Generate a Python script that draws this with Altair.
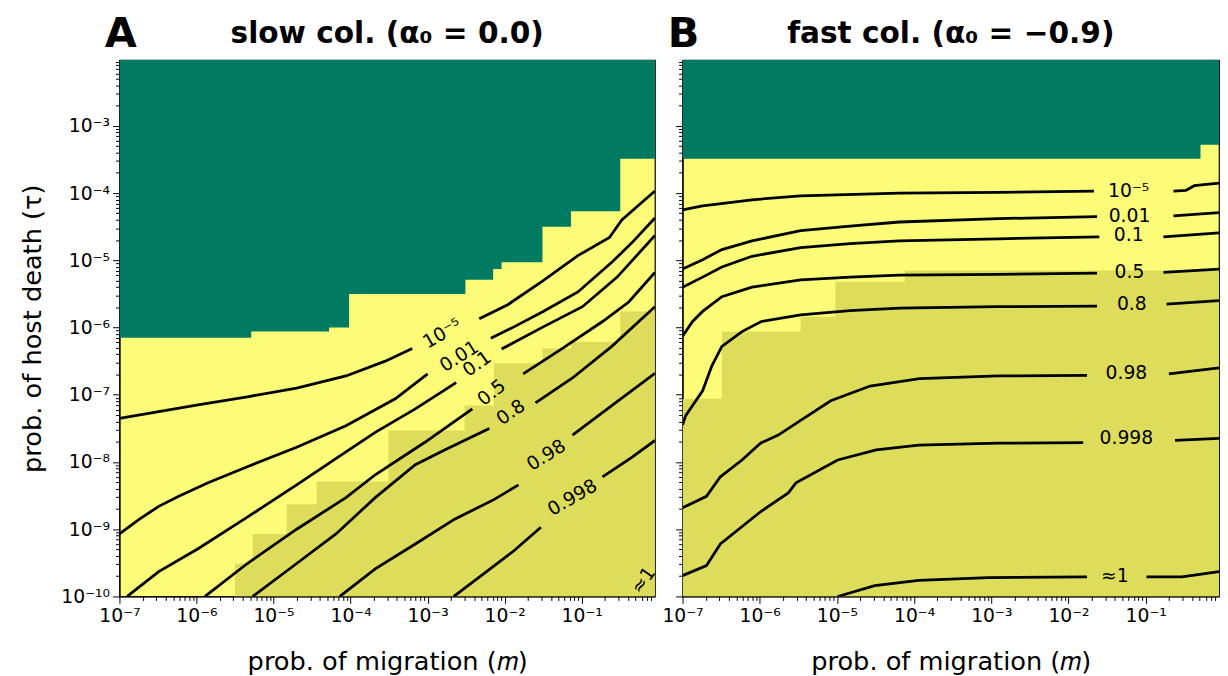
import altair as alt
import pandas as pd

FONT = "DejaVu Sans"
GREEN = "#007a60"
LIGHT = "#fcfc78"
DARK = "#dedd5b"

M_DOMAIN = [1e-7, 10 ** -0.05]
TAU_DOMAIN = [1e-10, 10 ** -2.02]
W_A, W_B, H = 543, 544, 544

# ---- region boundaries (log10 m where a step starts, log10 tau of the boundary)
A_GREEN_M = [-7.0, -5.29, -4.28, -4.02, -2.51, -2.15, -2.04, -1.51, -1.14, -0.50]
A_GREEN_TAU = [-6.15, -6.06, -6.00, -5.50, -5.29, -5.13, -5.03, -4.50, -4.27, -3.49]
A_DARK_M = [-7.0, -5.50, -5.27, -4.83, -4.44, -3.51, -2.52, -2.14, -1.51, -1.14, -0.50]
A_DARK_TAU = [-10.0, -9.51, -9.07, -8.63, -8.29, -7.53, -7.16, -6.53, -6.31, -6.21, -5.76]
B_GREEN_M = [-7.0, -0.29]
B_GREEN_TAU = [-3.49, -3.28]
B_DARK_M = [-7.0, -6.49, -5.47, -5.02, -4.12]
B_DARK_TAU = [-7.06, -6.06, -5.84, -5.32, -5.15]

# ---- contour lines (log10 m, log10 tau); None marks the gap left for the label
LEVELS = ["10⁻⁵", "0.01", "0.1", "0.5", "0.8", "0.98", "0.998", "≈1"]

A_C1 = [(-7.00, -7.35), (-6.49, -7.25), (-5.98, -7.15), (-5.34, -7.03), (-4.70, -6.90), (-4.06, -6.72),
        (-3.55, -6.50), (-3.20, -6.31), None, (-2.33, -5.87), (-1.96, -5.66), (-1.51, -5.31), (-1.05, -4.93),
        (-0.64, -4.66), (-0.48, -4.40), (-0.05, -3.97)]
A_C2 = [(-7.00, -9.07), (-6.74, -8.85), (-6.49, -8.66), (-6.23, -8.51), (-5.85, -8.31), (-5.34, -8.07),
        (-4.70, -7.78), (-4.06, -7.46), (-3.42, -7.06), (-3.00, -6.69), None, (-2.18, -6.16), (-1.88, -5.99),
        (-1.50, -5.76), (-1.05, -5.47), (-0.61, -5.03), (-0.35, -4.74), (-0.05, -4.37)]
A_C3 = [(-6.90, -10.0), (-6.49, -9.63), (-5.98, -9.29), (-5.34, -8.82), (-4.70, -8.34), (-4.06, -7.85),
        (-3.68, -7.56), (-3.16, -7.21), (-2.63, -6.82), None, (-2.04, -6.32), (-1.50, -5.99), (-0.99, -5.69),
        (-0.54, -5.25), (-0.05, -4.63)]
A_C4 = [(-5.89, -10.0), (-5.34, -9.51), (-4.70, -9.00), (-4.06, -8.53), (-3.68, -8.19), (-3.04, -7.71),
        (-2.42, -7.21), None, (-1.76, -6.69), (-1.25, -6.31), (-0.73, -5.91), (-0.39, -5.62), (-0.05, -5.18)]
A_C5 = [(-5.27, -10.0), (-4.70, -9.51), (-4.19, -9.07), (-3.68, -8.53), (-3.16, -8.04), (-2.78, -7.82),
        (-2.20, -7.50), None, (-1.60, -7.12), (-1.12, -6.75), (-0.61, -6.28), (-0.05, -5.69)]
A_C6 = [(-4.14, -10.0), (-3.68, -9.59), (-3.16, -9.22), (-2.65, -8.85), (-2.14, -8.56), (-1.82, -8.34), None,
        (-1.12, -7.60), (-0.61, -7.16), (-0.05, -6.68)]
A_C7 = [(-2.66, -10.0), (-2.27, -9.66), (-1.88, -9.32), (-1.53, -8.97), None, (-0.73, -8.22), (-0.35, -7.93),
        (-0.05, -7.68)]

B_C1 = [(-7.0, -4.25), (-6.74, -4.19), (-6.10, -4.10), (-5.47, -4.04), (-4.19, -4.00), (-2.91, -3.99),
        (-1.67, -3.97), None, (-0.64, -3.97), (-0.48, -3.96), (-0.37, -3.89), (-0.05, -3.85)]
B_C2 = [(-7.0, -5.13), (-6.74, -4.99), (-6.49, -4.84), (-6.10, -4.71), (-5.47, -4.56), (-4.83, -4.49),
        (-4.19, -4.43), (-2.91, -4.38), (-1.63, -4.35), None, (-0.64, -4.34), (-0.05, -4.29)]
B_C3 = [(-7.0, -5.40), (-6.74, -5.25), (-6.49, -5.10), (-6.10, -4.94), (-5.47, -4.81), (-4.83, -4.75),
        (-4.19, -4.71), (-2.91, -4.68), (-1.60, -4.65), None, (-0.77, -4.65), (-0.05, -4.59)]
B_C4 = [(-7.0, -6.13), (-6.87, -5.91), (-6.74, -5.76), (-6.49, -5.54), (-6.10, -5.40), (-5.47, -5.29),
        (-4.83, -5.25), (-4.19, -5.22), (-2.91, -5.21), (-1.63, -5.19), None, (-0.77, -5.18), (-0.05, -5.13)]
B_C5 = [(-7.0, -7.45), (-6.96, -7.31), (-6.74, -6.94), (-6.62, -6.57), (-6.49, -6.28), (-6.23, -6.06),
        (-5.98, -5.91), (-5.47, -5.81), (-4.83, -5.75), (-4.19, -5.71), (-2.91, -5.69), (-1.63, -5.68), None,
        (-0.73, -5.65), (-0.05, -5.60)]
B_C6 = [(-7.0, -8.68), (-6.69, -8.51), (-6.51, -8.22), (-6.23, -7.97), (-5.99, -7.72), (-5.76, -7.60),
        (-5.47, -7.38), (-5.08, -7.09), (-4.57, -6.87), (-3.93, -6.76), (-2.91, -6.72), (-1.76, -6.71), None,
        (-0.70, -6.69), (-0.05, -6.60)]
B_C7 = [(-7.0, -9.69), (-6.69, -9.54), (-6.51, -9.22), (-5.99, -8.74), (-5.63, -8.46), (-5.53, -8.31),
        (-4.99, -7.97), (-4.49, -7.82), (-3.94, -7.75), (-2.91, -7.72), (-1.81, -7.71), None, (-0.62, -7.68),
        (-0.05, -7.65)]
B_C8 = [(-4.99, -10.0), (-4.51, -9.84), (-3.94, -9.76), (-3.04, -9.72), (-1.76, -9.71), None, (-0.99, -9.71),
        (-0.53, -9.71), (-0.05, -9.63)]

# ---- inline contour labels
A_LABEL_M = [-2.81, -2.59, -2.36, -2.17, -1.92, -1.46, -1.12, -0.20]
A_LABEL_TAU = [-6.09, -6.43, -6.54, -6.97, -7.26, -7.90, -8.53, -9.76]
A_LABEL_ANGLE = [330, 328, 325, 322, 325, 328, 330, 305]
B_LABEL_M = [-1.22, -1.21, -1.22, -1.21, -1.18, -1.25, -1.25, -1.40]
B_LABEL_TAU = [-3.97, -4.34, -4.63, -5.18, -5.65, -6.68, -7.65, -9.69]
B_LABEL_ANGLE = [0, 0, 0, 0, 0, 0, 0, 0]

SUP = ["10⁻¹⁰", "10⁻⁹", "10⁻⁸", "10⁻⁷", "10⁻⁶", "10⁻⁵", "10⁻⁴", "10⁻³", "10⁻²", "10⁻¹", "10⁰"]


def steps(ms, taus):
    rows = [{"m": 10 ** a, "tau": 10 ** b} for a, b in zip(ms, taus)]
    rows.append({"m": M_DOMAIN[1], "tau": 10 ** taus[-1]})
    return pd.DataFrame(rows)


def contour_frame(lines):
    rows = []
    for k, pts in enumerate(lines):
        seg, i = 0, 0
        for p in pts:
            if p is None:
                seg += 1
                continue
            rows.append({"m": 10 ** p[0], "tau": 10 ** p[1], "seg": f"{k}-{seg}", "i": i})
            i += 1
    return pd.DataFrame(rows)


def label_frame(ms, taus, angles):
    return pd.DataFrame({"m": [10 ** v for v in ms], "tau": [10 ** v for v in taus],
                         "text": LEVELS[:len(ms)], "angle": angles})


def tick_values(lo, hi):
    vals = []
    for e in range(-10, 0):
        for k in range(1, 10):
            v = k * 10.0 ** e
            if lo * 0.999 <= v <= hi:
                vals.append(v)
    return vals


MAJOR = "abs(log(datum.value)/LN10 - round(log(datum.value)/LN10)) < 1e-6"
SUP_JS = "[" + ",".join("'" + s + "'" for s in SUP) + "]"
LABEL_EXPR = f"({MAJOR}) ? {SUP_JS}[round(log(datum.value)/LN10)+10] : ''"
TICK_SIZE = {"condition": {"test": MAJOR, "value": 7}, "value": 4}


def x_enc(title):
    return alt.X("m:Q", scale=alt.Scale(type="log", domain=M_DOMAIN, nice=False),
                 axis=alt.Axis(values=tick_values(*M_DOMAIN), labelExpr=LABEL_EXPR, tickSize=TICK_SIZE,
                               labelOverlap=False, labelFlush=False, labelFontSize=19, labelPadding=3,
                               title=title, titleFontSize=26, titlePadding=24, titleFontWeight="normal",
                               grid=False))


def y_enc(show):
    ax = alt.Axis(values=tick_values(*TAU_DOMAIN), labelExpr=LABEL_EXPR, tickSize=TICK_SIZE,
                  labelOverlap=False, labelFlush=False, labelFontSize=19, labelPadding=3,
                  labels=show, title="prob. of host death (τ)" if show else None,
                  titleFontSize=26, titlePadding=16, titleFontWeight="normal", grid=False)
    return alt.Y("tau:Q", scale=alt.Scale(type="log", domain=TAU_DOMAIN, nice=False), axis=ax)


def panel(letter, title, width, green, dark, contours, labels, show_y):
    xe = x_enc("prob. of migration (𝑚)")
    ye = y_enc(show_y)
    g = alt.Chart(green).mark_area(color=GREEN, interpolate="step-after", clip=True).encode(
        x=xe, y=ye, y2=alt.datum(TAU_DOMAIN[1]))
    d = alt.Chart(dark).mark_area(color=DARK, interpolate="step-after", clip=True).encode(
        x=xe, y=ye, y2=alt.datum(TAU_DOMAIN[0]))
    c = alt.Chart(contours).mark_line(color="black", strokeWidth=2.8, clip=True).encode(
        x=xe, y=ye, detail="seg:N", order="i:Q")
    t = alt.Chart(labels).mark_text(font=FONT, fontSize=19, color="black", align="center",
                                    baseline="middle").encode(
        x=xe, y=ye, text="text:N", angle=alt.Angle("angle:Q", scale=None))
    head = pd.DataFrame({"t": [letter], "h": [title]})
    L = alt.Chart(head).mark_text(
        font=FONT, fontSize=42, fontWeight="bold", align="left", baseline="alphabetic", color="black"
    ).encode(text="t:N", x=alt.value(-15), y=alt.value(-13))
    T = alt.Chart(head).mark_text(
        font=FONT, fontSize=30, fontWeight="bold", align="center", baseline="alphabetic", color="black"
    ).encode(text="h:N", x=alt.value(width / 2), y=alt.value(-17))
    return alt.layer(g, d, c, t, L, T).properties(width=width, height=H)


panel_a = panel("A", "slow col. (α₀ = 0.0)", W_A, steps(A_GREEN_M, A_GREEN_TAU), steps(A_DARK_M, A_DARK_TAU),
                contour_frame([A_C1, A_C2, A_C3, A_C4, A_C5, A_C6, A_C7]),
                label_frame(A_LABEL_M, A_LABEL_TAU, A_LABEL_ANGLE), True)
panel_b = panel("B", "fast col. (α₀ = −0.9)", W_B, steps(B_GREEN_M, B_GREEN_TAU), steps(B_DARK_M, B_DARK_TAU),
                contour_frame([B_C1, B_C2, B_C3, B_C4, B_C5, B_C6, B_C7, B_C8]),
                label_frame(B_LABEL_M, B_LABEL_TAU, B_LABEL_ANGLE), False)

chart = alt.hconcat(panel_a, panel_b, spacing=0).properties(
    padding={"left": 10, "top": 0, "right": 0, "bottom": 0}
).configure_view(fill=LIGHT, stroke="black", strokeWidth=1.2).configure_axis(
    labelFont=FONT, titleFont=FONT, labelColor="black", titleColor="black", tickColor="black",
    domainColor="black", domainWidth=1.2, tickWidth=1
)

chart.save("out.html", embed_options={"renderer": "svg", "actions": False})
